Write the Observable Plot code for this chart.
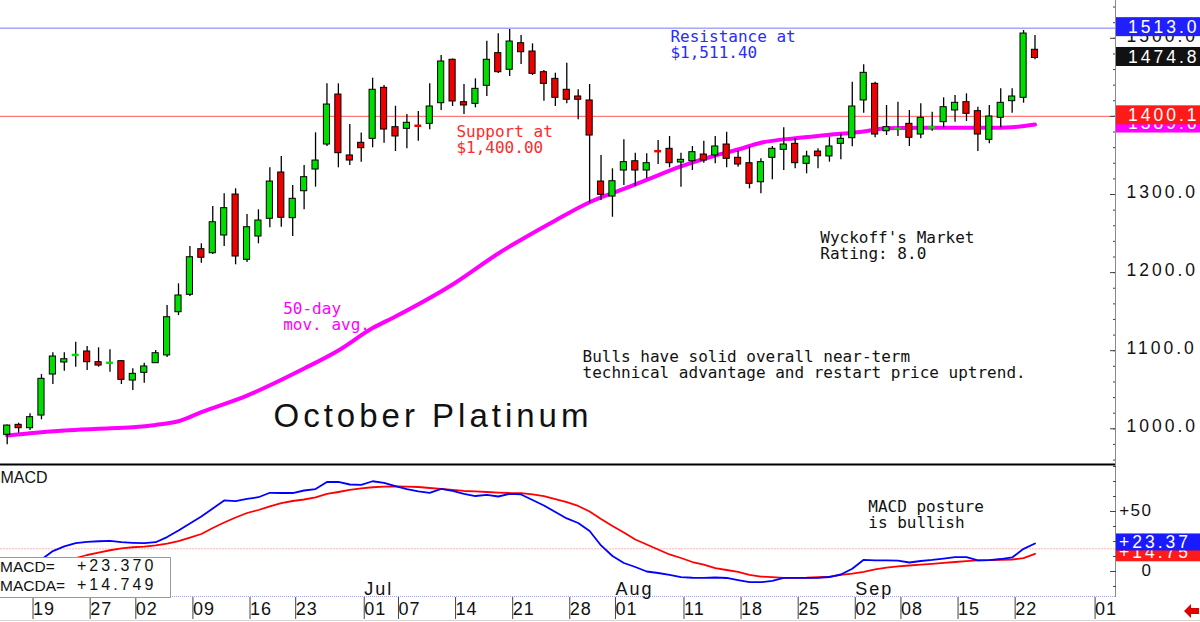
<!DOCTYPE html>
<html><head><meta charset="utf-8">
<script src="https://cdn.jsdelivr.net/npm/d3@7"></script>
<script src="https://cdn.jsdelivr.net/npm/@observablehq/plot@0.6"></script>
<style>
body{margin:0;background:#fff;}
#wrap{position:relative;width:1200px;height:622px;overflow:hidden;background:#fff;font-family:"Liberation Sans",Arial,sans-serif;}
#main,#macd{position:absolute;left:0;}
#main{top:0}
#macd{top:463px}
#main [aria-label="y-axis tick label"] text{letter-spacing:3px;}
#macd [aria-label="y-axis tick label"] text{letter-spacing:1.5px;}
#macd [aria-label="x-axis tick label"] text{letter-spacing:1px;}
#legend{position:absolute;left:-1px;top:557px;width:170px;height:39px;background:#fff;border:1px solid #9a9a9a;font-size:15.5px;line-height:1;color:#111;}
#legend span{position:absolute;white-space:pre;}
#legend span.num{letter-spacing:3px;font-size:16px;}
#bottomline{position:absolute;left:0;top:620px;width:1200px;height:1px;background:#d4d4d4;}
#arrow{position:absolute;left:1184px;top:604px;}
</style></head>
<body>
<div id="wrap">
<div id="main"></div>
<div id="macd"></div>
<div id="legend"></div>
<div id="bottomline"></div>
<svg id="arrow" width="16" height="14"><polygon points="0,7 7,0 7,4 15,4 15,10 7,10 7,14" fill="#e00000"/></svg>
</div>
<script>
// ---- data (trading days from May 15 to Sep 24) ----
const open = [992.3,1005.1,1000.8,1017,1069.5,1084.9,1094.2,1099,1085.3,1084,
 1086.6,1061.8,1071.7,1084,1094,1149.3,1171.6,1230,1224.8,1247.5,
 1300,1216.4,1246.2,1268.9,1328.2,1269.7,1304.2,1332,1364,1428,
 1350,1366.2,1371.3,1436.6,1386.2,1384.1,1389,1390.5,1416.9,1472.5,
 1418.2,1416.1,1439.2,1481,1459.7,1493.7,1483.1,1456.6,1448.1,1434.1,
 1425.5,1420.4,1316.6,1297.4,1330.7,1342.6,1330.7,1356,1358.5,1341,
 1342.6,1351.2,1350,1364,1347,1340.1,1315.7,1347,1357.2,1364.9,
 1339.3,1355,1348.7,1364.9,1372.1,1420.4,1441.7,1381,1384,1390.5,
 1376.8,1385.5,1392.6,1407.6,1418.2,1406.7,1370,1398.2,1419.5,1423.8,
 1485.3];
const high = [1005,1007.2,1019.2,1069.5,1097.3,1097.3,1110.9,1105.4,1103.7,1101.2,
 1087.5,1076.8,1084,1100.3,1157.9,1185.7,1233.4,1236.9,1284.6,1300.9,
 1307.3,1274.4,1280.4,1334.2,1348.7,1311.5,1337.1,1379,1441.7,1441.7,
 1389.6,1378.6,1448.9,1439.6,1413,1402.4,1406.3,1441.7,1478,1473.5,
 1440.8,1448.1,1496.3,1505.8,1511.4,1503.6,1492.9,1458.8,1455.3,1468.1,
 1434.1,1440.8,1349.9,1332.9,1370,1352.9,1352.1,1369.1,1374.3,1352.9,
 1361.5,1368.2,1374.3,1379.8,1355.4,1360.6,1345.7,1361.5,1385.4,1371.3,
 1355.4,1358.5,1373.4,1377.7,1443.8,1466.1,1443.8,1414,1418.2,1407.6,
 1416.1,1405.4,1423.8,1426.8,1428.9,1411.8,1414,1435.3,1435.3,1510,
 1503.6];
const low = [979.5,994.4,997.8,1011.5,1056.7,1073.8,1078.9,1074.6,1078.9,1072.5,
 1056.7,1049,1058.4,1083.6,1091.3,1145,1169.4,1212,1223.2,1233.4,
 1210,1212.9,1236.9,1257.4,1258.1,1246.2,1280.4,1309.4,1361.5,1334.2,
 1337.1,1341.4,1359.8,1365.7,1355,1358.5,1368.2,1382.8,1407.6,1412.7,
 1402.4,1411,1425.5,1454.9,1451.1,1466.4,1452.4,1419.5,1412.7,1416.1,
 1395.6,1288.9,1292.3,1270.9,1311.5,1310.2,1320.1,1338.4,1334.2,1309.4,
 1330.7,1340.1,1339.3,1334.2,1335,1307.3,1300.9,1318.8,1330.7,1332.9,
 1326.5,1332.9,1341.4,1344.4,1361.1,1404.1,1372.6,1375.5,1374.3,1361.5,
 1371.3,1381,1385.4,1392.6,1393.5,1355,1364.9,1385.4,1404.1,1416.9,
 1472.5];
const close = [1004.2,1000.8,1014.9,1064,1092.6,1089.1,1095,1085.3,1081,1085,
 1062.7,1070.4,1079.8,1096.8,1142.9,1170.7,1219.7,1219,1264.5,1282.5,
 1220.6,1258.1,1266.7,1316.6,1270.2,1294.5,1322.2,1343.5,1415.2,1352.9,
 1343.5,1359.3,1434.1,1383.2,1374.3,1391.8,1387,1412.7,1470.3,1419.1,
 1414,1435.3,1472.5,1456.6,1495.9,1482.2,1454.5,1441.7,1423.8,1421.3,
 1421.3,1375.5,1299.6,1317,1341.4,1330.7,1340.1,1355,1340.1,1344.4,
 1354.2,1343.5,1361.5,1345.7,1338.4,1313.7,1341.4,1358.5,1364,1340.1,
 1348.7,1349,1361.5,1371.3,1412.7,1455.8,1376.8,1386.2,1385,1372.6,
 1398.2,1386.5,1411.8,1417.4,1403.3,1376.8,1399.9,1417.4,1425.5,1506.1,
 1474.8];

const maIdx = [0,2,5,8,11,13,15,17,21,26,29,32,34,39,43,48,51,54,56,59,62,64,66,69,72,75,77,80,83,86,88,90];
const maVal = [991.4,994.4,997.8,1000,1002,1005,1009.7,1021.3,1042.6,1077.2,1100.3,1129,1143.8,1184.8,1224.5,1266.8,1290.1,1307.3,1318.8,1335.9,1349.9,1357.6,1366.2,1372.1,1376.4,1380.7,1384.9,1385.4,1385.4,1385.4,1386.2,1389.6];

const macdLine = [-8,-2,5,10,17,21,23.7,24.7,25.2,25.6,
 24.4,23.9,23.6,24.4,28.7,34.2,40,45.8,52.5,59.2,
 58.6,60.6,61.9,65.6,65.4,65.4,67.5,68.7,74.6,74.6,
 72.5,72.2,75.2,73.9,71.2,68.7,66.8,65.6,68.9,67.1,
 64.6,62.9,63.9,62.5,64.7,64.2,59.6,55,49.6,44.2,
 40.4,33.8,21.7,12.9,7.1,3.75,0,-1.25,-2.9,-4.75,
 -5.2,-5.25,-5,-5.4,-7.1,-8.9,-8.9,-7.75,-5.25,-5.25,
 -5.25,-5.25,-4.6,-2.5,2.25,9.75,9.3,9.2,9,7.5,
 8.75,9.6,10.8,11.9,11.9,9.2,9.5,10.4,11.7,18.9,23.37];
const signalLine = [2,4,6,7.5,9,10,11.25,13.75,15.8,17.7,
 19.2,20.2,20.8,21.7,23.3,25.4,28.3,31.25,36.25,40.8,
 45,48.75,51.25,54.2,57,58.75,60,61.7,64.6,66.25,
 68.1,69.2,70.2,70.7,71,70.8,70.4,69.6,68.9,68.1,
 67.1,66.7,66.25,65.8,65.4,65.25,64.2,62.75,60.4,57.75,
 54.6,50,43.75,37.9,32.5,26.7,22.5,18.3,14.2,11.25,
 7.9,5.8,2.9,1.25,-0.4,-2.9,-4.2,-4.75,-5.25,-5.25,
 -5.2,-4.8,-4.2,-2.9,-1.7,-0.25,1.7,3.3,4.2,5,
 5.7,6.3,7.1,7.9,8.6,9.2,9.4,9.75,10,11.1,14.749];

const tickIdx = [2,7,11,16,21,25,31,34,39,44,49,53,59,64,69,74,78,83,88,95];
const tickLabels = ["19","27","02","09","16","23","01","07","14","21","28","01","11","18","25","02","08","15","22","01"];
const monthIdx = [11,31,53,74];
const monthLabels = ["Jun","Jul","Aug","Sep"];

const resistanceLevel = 1513.0;
const supportLevel = 1400.1;
const macdRef = 18.9;
const priceTicksMajor = [1000,1100,1200,1300,1400,1500];
const macdTicksMajor = [0,50];

const titleText = "October Platinum";
const supportText = "Support at\n$1,400.00";
const resistText = "Resistance at\n$1,511.40";
const wyckoffText = "Wyckoff's Market\nRating: 8.0";
const maText = "50-day\nmov. avg.";
const bullsText = "Bulls have solid overall near-term\ntechnical advantage and restart price uptrend.";
const postureText = "MACD posture\nis bullish";

// ---- build ----
const GREEN = "#00dd00", RED = "#ee0000";
const XMIN = -0.587, XMAX = 97.05;
const MONO = "DejaVu Sans Mono, monospace";
const SANS = "Liberation Sans, Arial, sans-serif";

const candles = open.map((o, i) => ({i, o, h: high[i], l: low[i], c: close[i]}));
const isDoji = d => Math.abs(d.c - d.o) < 2.6;
const up = d => d.c >= d.o;
const ma = maIdx.map((i, k) => ({i, v: maVal[k]}));
const macdData = macdLine.map((m, i) => ({i, m, s: signalLine[i]}));
const labelOf = new Map(tickIdx.map((d, k) => [d, tickLabels[k]]));

const note = (txt, xi, yv, color, extra = {}) =>
  Plot.text([txt], {x: () => xi, y: () => yv, text: d => d, textAnchor: "start", lineAnchor: "top",
    fontFamily: MONO, fontSize: 16, fill: color, ...extra});

const main = Plot.plot({
  width: 1200, height: 463,
  marginTop: 0, marginBottom: 0, marginLeft: 0, marginRight: 85,
  x: {domain: [XMIN, XMAX], axis: null, label: null},
  y: {domain: [955.6, 1548.4], label: null},
  color: {type: "identity"},
  style: {fontFamily: SANS, fontSize: "17px", background: "transparent", overflow: "visible"},
  marks: [
    Plot.ruleY([resistanceLevel], {stroke: "#7878ff", strokeWidth: 1}),
    Plot.ruleY([supportLevel], {stroke: "#ff5a5a", strokeWidth: 1}),
    Plot.line(ma, {x: "i", y: "v", stroke: "#ff00ff", strokeWidth: 4, curve: "monotone-x"}),
    Plot.ruleX(candles, {x: "i", y1: "l", y2: "h", stroke: "#000", strokeWidth: 1.3}),
    Plot.rect(candles.filter(d => !isDoji(d)), {x1: d => d.i - 0.27, x2: d => d.i + 0.27, y1: "o", y2: "c",
      fill: d => up(d) ? GREEN : RED, stroke: "#000", strokeWidth: 1}),
    Plot.ruleY(candles.filter(isDoji), {x1: d => d.i - 0.3, x2: d => d.i + 0.3, y: d => (d.o + d.c) / 2,
      stroke: d => up(d) ? GREEN : RED, strokeWidth: 2.5}),
    Plot.axisY(d3.range(960, 1541, 20), {anchor: "right", tickSize: 3, dx: -3, tickFormat: () => "", stroke: "#444"}),
    Plot.axisY(priceTicksMajor, {anchor: "right", tickSize: 6, dx: -6, tickFormat: () => "", stroke: "#444"}),
    Plot.axisY(priceTicksMajor, {anchor: "right", tickSize: 0, tickPadding: 11, tickFormat: d => d.toFixed(1), fontSize: 17.5, fill: "#111", dy: -2}),
    Plot.ruleX([XMAX], {stroke: "#8a8a8a"}),
    note(supportText, 39.34, 1388.3, "#ff2a2a"),
    note(resistText, 58.08, 1510, "#2b2bff"),
    note(wyckoffText, 71.2, 1252.6, "#111"),
    note(maText, 24.17, 1162.1, "#ff00ff"),
    note(bullsText, 50.38, 1100.3, "#111"),
    Plot.text([titleText], {x: () => 23.32, y: () => 1032.4, text: d => d, textAnchor: "start", lineAnchor: "top",
      fontFamily: SANS, fontSize: 33, fill: "#111"})
  ]
});
document.getElementById("main").append(main);

const macd = Plot.plot({
  width: 1200, height: 159,
  marginTop: 0, marginBottom: 25, marginLeft: 0, marginRight: 85,
  x: {domain: [XMIN, XMAX], label: null},
  y: {domain: [-21.67, 90], label: null},
  style: {fontFamily: SANS, fontSize: "17px", background: "transparent", overflow: "visible"},
  marks: [
    Plot.ruleY([macdRef], {stroke: "#ffb4b4", strokeDasharray: "2,1"}),
    Plot.ruleY([-20.8], {stroke: "#a0a0f0", strokeDasharray: "1,1"}),
    Plot.line(macdData, {x: "i", y: "s", stroke: "#ff0000", strokeWidth: 1.8}),
    Plot.line(macdData, {x: "i", y: "m", stroke: "#0000ff", strokeWidth: 1.8}),
    Plot.ruleY([90], {stroke: "#000", strokeWidth: 2, dy: 1}),
    Plot.ruleX([XMAX], {stroke: "#8a8a8a"}),
    Plot.axisY(d3.range(-12.5, 90, 12.5), {anchor: "right", tickSize: 3, dx: -3, tickFormat: () => "", stroke: "#444"}),
    Plot.axisY(macdTicksMajor, {anchor: "right", tickSize: 6, dx: -6, tickFormat: () => "", stroke: "#444"}),
    Plot.axisY(macdTicksMajor, {anchor: "right", tickSize: 0, tickPadding: 37, textAnchor: "end",
      tickFormat: d => d > 0 ? "+" + d : String(d), fontSize: 17, fill: "#111", dy: -1}),
    Plot.axisX(tickIdx, {anchor: "bottom", tickSize: 22, tickPadding: -10, lineAnchor: "middle", textAnchor: "start",
      dx: 3, tickFormat: d => labelOf.get(d), fontSize: 18, fill: "#111", stroke: "#444"}),
    Plot.text(monthLabels, {x: (d, k) => monthIdx[k], text: d => d, frameAnchor: "bottom", lineAnchor: "bottom",
      textAnchor: "start", dx: 3, dy: -3, fontSize: 18, fill: "#111"}),
    Plot.text(["MACD"], {text: d => d, frameAnchor: "top-left", lineAnchor: "top", textAnchor: "start", dy: 8, fontSize: 16, fill: "#111"}),
    Plot.text([postureText], {x: () => 75.4, y: () => 59.2, text: d => d, textAnchor: "start", lineAnchor: "top",
      fontFamily: MONO, fontSize: 16, fill: "#111"})
  ]
});
document.getElementById("macd").append(macd);

// letter spacing for the big title and month labels
d3.select(main).selectAll("text").filter(function() { return this.textContent === titleText; }).style("letter-spacing", "4px");
d3.select(macd).selectAll("text").filter(function() { return monthLabels.includes(this.textContent); }).style("letter-spacing", "2px");

// value tags on the right axis
function tag(svg, scale, v, label, fill, h, tx) {
  const y = scale.apply(v);
  const g = d3.select(svg).append("g");
  g.append("rect").attr("x", 1116).attr("y", y - h / 2 - 1).attr("width", 84).attr("height", h).attr("fill", fill);
  g.append("text").attr("x", tx).attr("y", y - 1).attr("dy", "0.35em").attr("fill", "#fff")
    .attr("text-anchor", "start")
    .style("font-family", SANS).style("font-size", "17.5px").style("letter-spacing", "3px").text(label);
}
const ys = main.scale("y");
tag(main, ys, resistanceLevel, resistanceLevel.toFixed(1), "#2020ff", 19, 1128);
tag(main, ys, close[close.length - 1], close[close.length - 1].toFixed(1), "#111111", 19, 1128);
tag(main, ys, maVal[maVal.length - 1], maVal[maVal.length - 1].toFixed(1), "#ff00ff", 19, 1128);
tag(main, ys, supportLevel, supportLevel.toFixed(1), "#ff1a1a", 19, 1128);
const ym = macd.scale("y");
const lastM = macdLine[macdLine.length - 1], lastS = signalLine[signalLine.length - 1];
tag(macd, ym, lastS, "+" + lastS.toFixed(2), "#ff1a1a", 18, 1119);
tag(macd, ym, lastM, "+" + lastM.toFixed(2), "#1a1aff", 17, 1119);

// legend box
const lg = document.getElementById("legend");
lg.innerHTML = `<span style="left:0px;top:1px">MACD=</span><span class="num" style="left:77px;top:0px">+${lastM.toFixed(3)}</span>` +
  `<span style="left:0px;top:19.5px">MACDA=</span><span class="num" style="left:77px;top:18.5px">+${lastS.toFixed(3)}</span>`;
</script>
</body></html>
